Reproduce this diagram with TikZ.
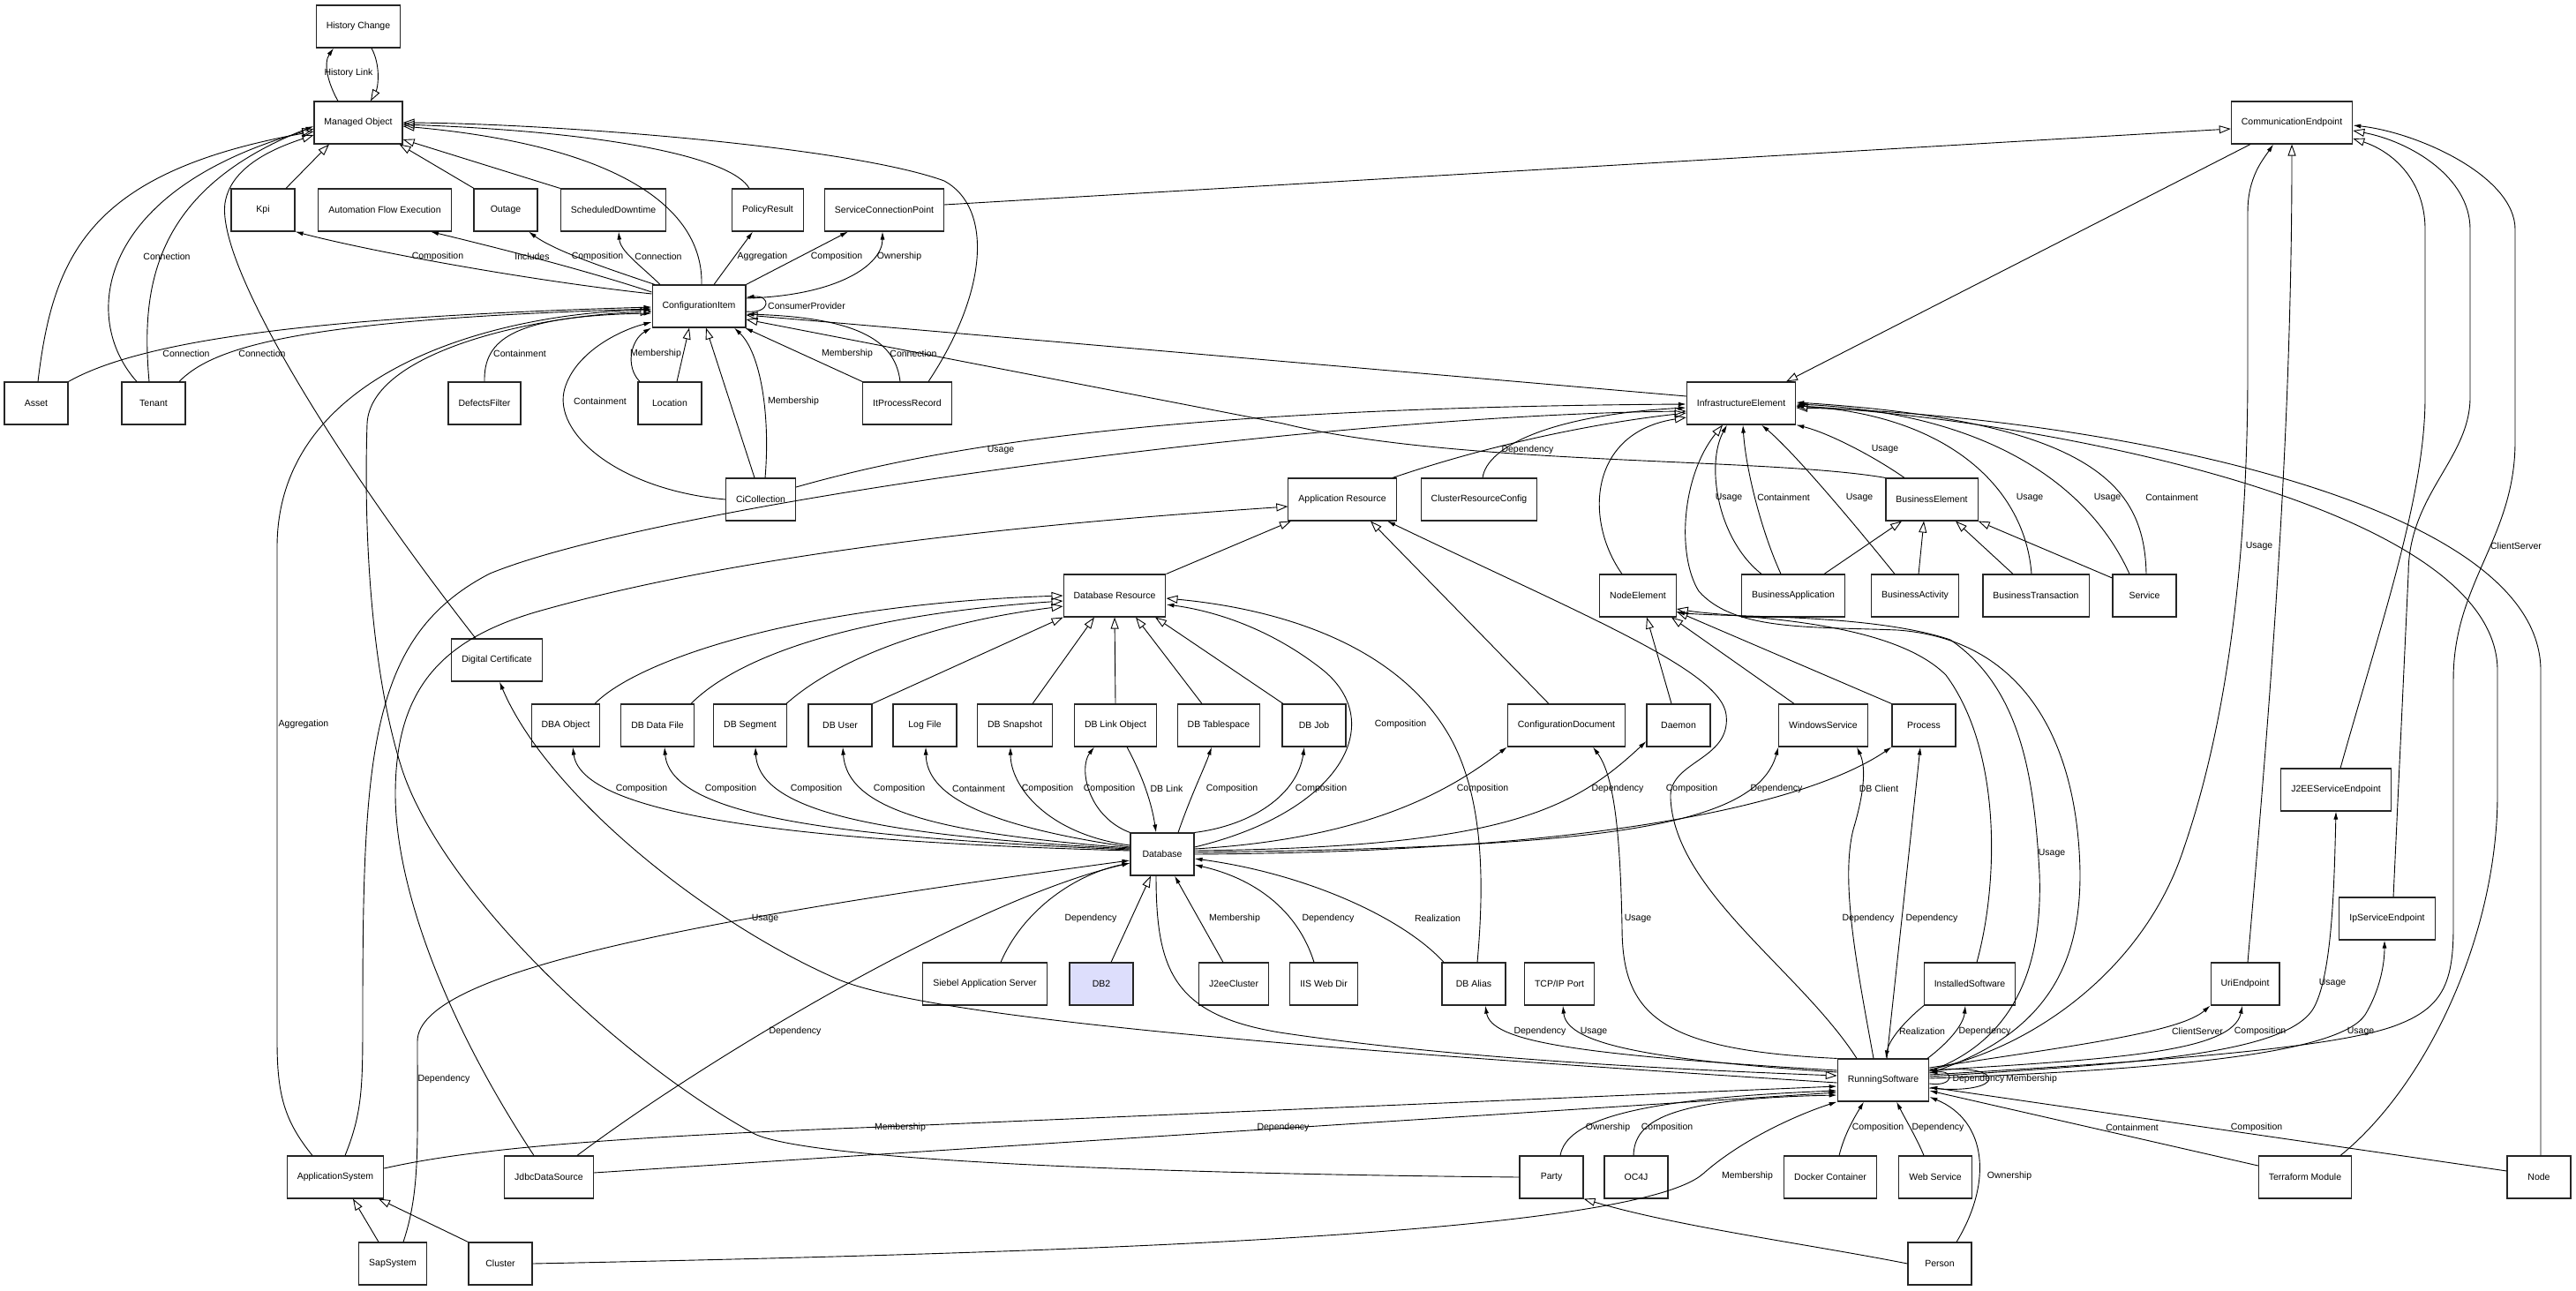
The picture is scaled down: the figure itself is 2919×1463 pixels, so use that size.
\documentclass[tikz,border=0pt]{standalone}
\usepackage{fontspec}
\setmainfont{Liberation Sans}
\usetikzlibrary{arrows.meta}
\usepackage{xcolor}
\definecolor{db2Blue}{RGB}{221,222,252}
\tikzset{
  umlbox/.style={
    draw=black!85,
    line width=1.1pt,
    minimum width=72pt,
    minimum height=48pt,
    inner xsep=11.5pt,
    font=\fontsize{10.5}{12}\selectfont
  }
}

\begin{document}
\begin{tikzpicture}[
    x=1pt, y=-1pt,
    inherit/.style={-{Triangle[open,length=13pt,width=9pt]}, line width=0.9pt},
    assoc/.style={-{Latex[length=9pt,width=5pt]}, line width=0.9pt},
    lbl/.style={inner sep=1pt, font=\fontsize{10.5}{12}\selectfont}
  ]
  \useasboundingbox (0,0) rectangle (2919,1463);

  \foreach \n/\x/\y/\t in {
    hc/406/30/History Change, mo/406/139/Managed Object,
    kpi/298/238/Kpi, afe/436/238/Automation Flow Execution, outage/573/238/Outage,
    sdt/695/238/ScheduledDowntime, polres/870/238/PolicyResult,
    scp/1002/238/ServiceConnectionPoint, cendp/2597/139/CommunicationEndpoint,
    ci/792/347/ConfigurationItem,
    asset/41/457/Asset, tenant/174/457/Tenant, defects/549/457/DefectsFilter,
    location/759/457/Location, itproc/1028/457/ItProcessRecord,
    infra/1973/457/InfrastructureElement,
    cicoll/862/566/CiCollection, appres/1521/566/Application Resource,
    clusterrc/1676/566/ClusterResourceConfig, buselem/2189/566/BusinessElement,
    dbres/1263/675/Database Resource, nodeel/1856/675/NodeElement,
    busapp/2032/675/BusinessApplication, busact/2170/675/BusinessActivity,
    bustx/2307/675/BusinessTransaction, service/2430/675/Service,
    digcert/563/748/Digital Certificate,
    dbaobj/641/822/DBA Object, dbfile/745/822/DB Data File, dbseg/850/822/DB Segment,
    dbuser/952/822/DB User, logfile/1048/822/Log File, dbsnap/1150/822/DB Snapshot,
    dblink/1264/822/DB Link Object, dbts/1381/822/DB Tablespace, dbjob/1489/822/DB Job,
    confdoc/1775/822/ConfigurationDocument, daemon/1902/822/Daemon,
    winsvc/2066/822/WindowsService, process/2180/822/Process,
    j2eese/2647/895/J2EEServiceEndpoint, database/1317/968/Database,
    ipse/2705/1041/IpServiceEndpoint,
    siebel/1116/1115/Siebel Application Server, j2eecl/1398/1115/J2eeCluster,
    iisweb/1500/1115/IIS Web Dir, dbalias/1670/1115/DB Alias,
    instsw/2232/1115/InstalledSoftware, uriendp/2544/1115/UriEndpoint,
    runsw/2134/1224/RunningSoftware,
    appsys/380/1334/ApplicationSystem, jdbc/622/1334/JdbcDataSource,
    party/1758/1334/Party, oc4j/1854/1334/OC4J, docker/2074/1334/Docker Container,
    websvc/2193/1334/Web Service, terraform/2612/1334/Terraform Module,
    nodehw/2877/1334/Node,
    sapsys/445/1432/SapSystem, cluster/567/1432/Cluster, person/2198/1432/Person}{
    \node[umlbox] (\n) at (\x,\y) {\t};
  }
  \node[umlbox, fill=db2Blue] (db2) at (1248,1115) {DB2};
  \node[umlbox] (tcpport) at (1767,1115) {TCP/IP Port};

  \foreach \x/\y/\t [count=\k] in {
    395/83/History Link, 189/291/Connection, 496/291/Composition, 603/291/Includes,
    677/291/Composition, 746/291/Connection, 864/291/Aggregation, 948/291/Composition,
    1019/291/Ownership, 914/347/ConsumerProvider,
    211/401/Connection, 297/401/Connection, 589/401/Containment, 743/401/Membership,
    960/401/Membership, 1035/401/Connection, 680/455/Containment, 899/455/Membership,
    1134/510/Usage, 1731/510/Dependency, 2136/509/Usage,
    1959/564/Usage, 2021/564/Containment, 2107/564/Usage, 2300/564/Usage,
    2388/564/Usage, 2461/564/Containment, 2560/619/Usage, 2851/619/ClientServer,
    344/821/Aggregation, 1587/821/Composition,
    727/894/Composition, 828/894/Composition, 925/894/Composition, 1019/894/Composition,
    1109/894/Containment, 1187/894/Composition, 1257/894/Composition, 1322/894/DB Link,
    1396/894/Composition, 1497/894/Composition, 1680/894/Composition, 1833/894/Dependency,
    1917/894/Composition, 2013/894/Dependency, 2129/894/DB Client,
    2325/967/Usage,
    867/1041/Usage, 1236/1041/Dependency, 1399/1041/Membership, 1505/1041/Dependency,
    1629/1041/Realization, 1856/1041/Usage, 2117/1041/Dependency, 2189/1041/Dependency,
    2643/1114/Usage,
    901/1169/Dependency, 1745/1169/Dependency, 1806/1169/Usage, 2178/1169/Realization,
    2249/1169/Dependency, 2490/1169/ClientServer, 2561/1169/Composition, 2675/1169/Usage,
    503/1223/Dependency, 2242/1223/Dependency, 2302/1223/Membership,
    1020/1278/Membership, 1454/1278/Dependency, 1822/1278/Ownership, 1889/1278/Composition,
    2128/1278/Composition, 2196/1278/Dependency, 2416/1278/Containment,
    2557/1278/Composition, 1980/1333/Membership, 2277/1333/Ownership}{
    \node[lbl] (lab\k) at (\x,\y) {\t};
  }

  % Managed Object
  \draw[assoc] ([xshift=-23pt]mo.north) .. controls (372,95) and (366,72) .. ([xshift=-28pt]hc.south);
  \draw[inherit] ([xshift=15pt]hc.south) .. controls (432,75) and (428,100) .. ([xshift=14pt]mo.north);
  \draw[inherit] ([xshift=26pt]kpi.north) -- ([xshift=-33pt]mo.south);
  \draw[inherit] ([xshift=-36pt]outage.north) -- ([xshift=-4pt]mo.south east);
  \draw[inherit] (sdt.north west) -- ([yshift=-19pt]mo.east);
  \draw[inherit] ([xshift=3pt]ci.north) .. controls (797,235) and (700,165) .. ([yshift=-4pt]mo.east);
  \draw[inherit] ([xshift=-21pt]polres.north) .. controls (830,180) and (700,150) .. ([yshift=-2pt]mo.east);
  \draw[inherit] ([xshift=24pt]itproc.north) .. controls (1120,330) and (1125,235) .. (1070,205) .. controls (960,165) and (620,140) .. (mo.east);
  \draw[inherit] ([xshift=2pt]asset.north) .. controls (60,290) and (100,195) .. ([yshift=-10pt]mo.west);
  \draw[inherit] ([xshift=-19pt]tenant.north) .. controls (90,360) and (110,215) .. ([yshift=-7pt]mo.west);
  \draw[assoc] ([xshift=-5pt]tenant.north) .. controls (160,330) and (170,215) .. ([yshift=-4pt]mo.west);
  \draw[inherit] ([xshift=-24pt]digcert.north) .. controls (380,520) and (245,300) .. (255,230) .. controls (262,185) and (320,165) .. ([yshift=-14pt]mo.west);

  % ConfigurationItem, upper row
  \draw[assoc] ([yshift=14pt]ci.west) .. controls (600,318) and (420,285) .. (kpi.south east);
  \draw[assoc] ([yshift=16pt]ci.west) .. controls (660,305) and (560,280) .. ([xshift=52pt]afe.south);
  \draw[assoc] ([xshift=-50pt]ci.north) .. controls (690,305) and (630,285) .. ([xshift=26pt]outage.south);
  \draw[assoc] ([xshift=-44pt]ci.north) .. controls (725,300) and (703,285) .. ([xshift=6pt]sdt.south);
  \draw[assoc] ([xshift=17pt]ci.north) -- ([xshift=-17pt]polres.south);
  \draw[assoc] (ci.north east) -- ([xshift=-41pt]scp.south);
  \draw[assoc] ([yshift=9pt]ci.east) .. controls (950,335) and (1000,300) .. ([xshift=-2pt]scp.south);
  \draw[assoc] ([yshift=-6pt]ci.east) .. controls (874,356) and (874,334) .. ([yshift=10pt]ci.east);
  \draw[inherit] ([yshift=6pt]scp.east) -- ([yshift=-7pt]cendp.west);

  % ConfigurationItem, from below
  \draw[assoc] (asset.north east) .. controls (170,380) and (400,358) .. ([yshift=-1pt]ci.west);
  \draw[assoc] ([xshift=29pt]tenant.north) .. controls (240,395) and (330,362) .. ([yshift=-3pt]ci.west);
  \draw[assoc] (defects.north) .. controls (548,385) and (580,358) .. ([yshift=-8pt]ci.west);
  \draw[assoc] ([xshift=-34pt]location.north) .. controls (708,415) and (715,385) .. ([xshift=-54pt]ci.south);
  \draw[inherit] ([xshift=8pt]location.north) -- ([xshift=-11pt]ci.south);
  \draw[assoc] (itproc.north west) -- ([xshift=52pt]ci.south);
  \draw[assoc] ([xshift=-8pt]itproc.north) .. controls (1015,390) and (980,360) .. ([yshift=-9pt]ci.east);
  \draw[assoc] (cicoll.west) .. controls (700,555) and (625,490) .. (640,440) .. controls (652,400) and (700,375) .. ([yshift=-18pt]ci.west);
  \draw[inherit] ([xshift=-7pt]cicoll.north) -- ([xshift=8pt]ci.south);
  \draw[assoc] ([xshift=5pt]cicoll.north) .. controls (873,470) and (862,400) .. ([xshift=40pt]ci.south);
  \draw[assoc] ([yshift=14pt]cicoll.east) .. controls (1050,510) and (1300,462) .. ([yshift=-1pt]infra.west);
  \draw[inherit] ([yshift=8pt]infra.west) -- ([yshift=-10pt]ci.east);
  \draw[inherit] (buselem.north west) .. controls (2000,518) and (1650,528) .. (1454,480) -- ([yshift=-15pt]ci.east);
  \draw[assoc] ([xshift=-26pt]appsys.north) .. controls (322,1270) and (314,1240) .. (314,1180) -- (314,620) .. controls (314,420) and (560,355) .. ([yshift=-4pt]ci.west);
  \draw[inherit] (party.west) .. controls (1300,1330) and (920,1315) .. (855,1285) .. controls (700,1200) and (500,1010) .. (455,870) .. controls (420,760) and (412,600) .. (416,480) .. controls (420,400) and (600,358) .. ([yshift=-6pt]ci.west);

  % ApplicationSystem, JdbcDataSource, SapSystem, Cluster
  \draw[inherit] ([xshift=11pt]appsys.north) .. controls (411,1260) and (411,1230) .. (411,1150) .. controls (411,850) and (420,720) .. (555,650) .. controls (750,570) and (1500,470) .. ([yshift=-9pt]infra.west);
  \draw[inherit] ([xshift=-17pt]jdbc.north) .. controls (500,1150) and (448,1000) .. (448,900) .. controls (448,780) and (500,722) .. (620,690) .. controls (900,612) and (1300,585) .. ([yshift=-8pt]appres.west);
  \draw[assoc] ([xshift=32pt]jdbc.north) .. controls (800,1200) and (1100,1020) .. ([yshift=-10pt]database.west);
  \draw[assoc] ([xshift=12pt]sapsys.north) .. controls (476,1350) and (473,1300) .. (473,1180) .. controls (473,1100) and (800,1040) .. ([yshift=-7pt]database.west);
  \draw[inherit] ([xshift=-16pt]sapsys.north) -- ([xshift=20pt]appsys.south);
  \draw[inherit] (cluster.north west) -- ([xshift=49pt]appsys.south);
  \draw[assoc] ([yshift=10pt]appsys.east) .. controls (520,1305) and (650,1290) .. (1000,1277) -- ([yshift=-7pt]runsw.west);
  \draw[assoc] ([yshift=5pt]jdbc.east) -- ([yshift=-14pt]runsw.west);
  \draw[assoc] (cluster.east) .. controls (1200,1420) and (1850,1400) .. (1930,1330) .. controls (1975,1290) and (2040,1262) .. (runsw.south west);

  % RunningSoftware, left side
  \draw[assoc] ([yshift=-3pt]runsw.west) .. controls (1500,1190) and (1060,1155) .. (950,1110) .. controls (800,1045) and (620,900) .. ([xshift=3pt]digcert.south);
  \draw[inherit] ([xshift=-7pt]database.south) .. controls (1310,1100) and (1330,1150) .. (1450,1170) .. controls (1650,1200) and (1900,1212) .. ([yshift=5pt]runsw.west);
  \draw[assoc] (runsw.north west) .. controls (1880,1190) and (1838,1150) .. (1838,1050) .. controls (1836,950) and (1830,880) .. ([xshift=30pt]confdoc.south);
  \draw[assoc] ([yshift=11pt]runsw.west) .. controls (1780,1195) and (1690,1180) .. ([xshift=13pt]dbalias.south);
  \draw[assoc] ([yshift=9pt]runsw.west) .. controls (1850,1200) and (1775,1180) .. ([xshift=4pt]tcpport.south);
  \draw[assoc] ([xshift=10pt]party.north) .. controls (1775,1270) and (1850,1245) .. ([yshift=-12pt]runsw.west);
  \draw[assoc] ([xshift=-3pt]oc4j.north) .. controls (1852,1270) and (1890,1245) .. ([yshift=-17pt]runsw.west);
  \draw[inherit] (person.west) .. controls (2050,1410) and (1900,1390) .. (party.south east);

  % RunningSoftware, bottom and right side
  \draw[assoc] ([xshift=19pt]person.north) .. controls (2258,1340) and (2252,1270) .. ([yshift=-19pt]runsw.east);
  \draw[assoc] ([xshift=10pt]docker.north) .. controls (2090,1285) and (2102,1265) .. ([xshift=-22pt]runsw.south);
  \draw[assoc] ([xshift=-13pt]websvc.north) .. controls (2172,1290) and (2160,1270) .. ([xshift=15pt]runsw.south);
  \draw[assoc] ([yshift=13pt]terraform.west) -- ([yshift=-12pt]runsw.east);
  \draw[assoc] ([yshift=7pt]nodehw.west) -- ([yshift=-8pt]runsw.east);
  \draw[inherit] ([xshift=40pt]terraform.north) .. controls (2750,1230) and (2830,1060) .. (2830,900) -- (2830,760) .. controls (2830,570) and (2300,475) .. ([yshift=-3pt]infra.east);
  \draw[inherit] ([xshift=2pt]nodehw.north) -- (2879,760) .. controls (2879,560) and (2350,470) .. ([yshift=-5pt]infra.east);
  \draw[assoc] ([yshift=-4pt]runsw.east) .. controls (2215,1232) and (2215,1212) .. ([yshift=8pt]runsw.east);
  \draw[assoc] ([yshift=-9pt]runsw.east) .. controls (2275,1242) and (2275,1204) .. ([yshift=10pt]runsw.east);

  % RunningSoftware, upwards
  \draw[assoc] ([xshift=-30pt]runsw.north) .. controls (2040,1100) and (1898,1010) .. (1893,905) .. controls (1890,862) and (1962,862) .. (1956,810) .. controls (1950,760) and (1800,700) .. ([xshift=51pt]appres.south);
  \draw[assoc] ([xshift=-11pt]runsw.north) .. controls (2105,1100) and (2085,1000) .. (2100,940) .. controls (2112,900) and (2115,870) .. ([xshift=38pt]winsvc.south);
  \draw[assoc] ([xshift=4pt]runsw.north) -- ([xshift=-4pt]process.south);
  \draw[assoc] ([xshift=-52pt]instsw.south) .. controls (2155,1160) and (2140,1180) .. ([xshift=3pt]runsw.north);
  \draw[assoc] ([xshift=50pt]runsw.north) .. controls (2210,1180) and (2225,1160) .. ([xshift=-5pt]instsw.south);
  \draw[inherit] ([xshift=8pt]instsw.north) .. controls (2265,1000) and (2268,850) .. (2205,765) .. controls (2140,700) and (1960,700) .. ([yshift=-15pt]nodeel.east);
  \draw[assoc] ([yshift=10pt]runsw.east) .. controls (2280,1180) and (2315,1100) .. (2311,990) .. controls (2305,880) and (2290,780) .. (2210,725) .. controls (2120,695) and (1960,700) .. ([yshift=-19pt]nodeel.east);
  \draw[inherit] ([yshift=8pt]runsw.east) .. controls (2330,1170) and (2357,1080) .. (2357,990) .. controls (2355,850) and (2300,725) .. (2150,714) .. controls (2050,710) and (1965,715) .. (1925,670) .. controls (1900,630) and (1905,540) .. ([xshift=-21pt]infra.south);

  % CommunicationEndpoint
  \draw[inherit] ([xshift=-47pt]cendp.south) -- ([xshift=51pt]infra.north);
  \draw[assoc] ([yshift=12pt]runsw.east) .. controls (2300,1190) and (2430,1100) .. (2475,960) .. controls (2530,800) and (2547,600) .. (2547,420) -- (2547,240) .. controls (2547,200) and (2565,180) .. ([xshift=-21pt]cendp.south);
  \draw[inherit] ([xshift=3pt]uriendp.north) .. controls (2572,800) and (2597,500) .. (cendp.south);
  \draw[inherit] ([xshift=5pt]j2eese.north) .. controls (2700,700) and (2748,560) .. (2748,450) -- (2748,260) .. controls (2748,205) and (2712,172) .. ([yshift=-18pt]cendp.east);
  \draw[inherit] ([xshift=7pt]ipse.north) -- (2729,650) .. controls (2729,560) and (2799,520) .. (2799,450) -- (2799,260) .. controls (2799,200) and (2730,160) .. ([yshift=-9pt]cendp.east);
  \draw[assoc] ([yshift=6pt]runsw.east) .. controls (2400,1205) and (2650,1190) .. (2720,1160) .. controls (2770,1140) and (2780,1110) .. (2780,1050) -- (2780,770) .. controls (2780,660) and (2850,610) .. (2850,500) -- (2850,260) .. controls (2850,200) and (2740,150) .. ([yshift=-3pt]cendp.east);
  \draw[assoc] ([yshift=4pt]runsw.east) .. controls (2420,1205) and (2585,1195) .. (2620,1145) .. controls (2643,1110) and (2645,1000) .. (j2eese.south);
  \draw[assoc] ([yshift=2pt]runsw.east) .. controls (2450,1212) and (2650,1195) .. (2680,1150) .. controls (2698,1120) and (2702,1090) .. ([xshift=-3pt]ipse.south);
  \draw[assoc] ([yshift=14pt]runsw.east) .. controls (2350,1185) and (2470,1170) .. (uriendp.south west);
  \draw[assoc] ([yshift=11pt]runsw.east) .. controls (2400,1200) and (2530,1192) .. ([xshift=-3pt]uriendp.south);

  % Database Resource
  \draw[inherit] ([xshift=33pt]dbaobj.north) .. controls (720,750) and (900,685) .. (dbres.west);
  \draw[inherit] ([xshift=38pt]dbfile.north) .. controls (830,750) and (950,698) .. ([yshift=-6pt]dbres.west);
  \draw[inherit] ([xshift=41pt]dbseg.north) .. controls (950,745) and (1060,705) .. ([yshift=-12pt]dbres.west);
  \draw[inherit] (dbuser.north east) -- (dbres.south west);
  \draw[inherit] ([xshift=20pt]dbsnap.north) -- ([xshift=-23pt]dbres.south);
  \draw[inherit] (dblink.north) -- (dbres.south);
  \draw[inherit] ([xshift=-19pt]dbts.north) -- ([xshift=24pt]dbres.south);
  \draw[inherit] ([xshift=-35pt]dbjob.north) -- ([xshift=46pt]dbres.south);
  \draw[assoc] ([yshift=8pt]database.east) .. controls (1520,920) and (1572,820) .. (1500,760) .. controls (1440,712) and (1375,692) .. ([yshift=-10pt]dbres.east);
  \draw[inherit] ([xshift=4pt]dbalias.north) .. controls (1682,1000) and (1682,900) .. (1640,830) .. controls (1580,730) and (1450,690) .. ([yshift=-3pt]dbres.east);

  % Database, lower row
  \draw[assoc] ([xshift=-34pt]dbalias.north) .. controls (1590,1040) and (1480,990) .. ([yshift=-5pt]database.east);
  \draw[assoc] ([xshift=18pt]siebel.north) .. controls (1160,1030) and (1220,990) .. ([yshift=-10pt]database.west);
  \draw[inherit] ([xshift=11pt]db2.north) -- ([xshift=-13pt]database.south);
  \draw[assoc] ([xshift=-12pt]j2eecl.north) -- ([xshift=14pt]database.south);
  \draw[assoc] ([xshift=-11pt]iisweb.north) .. controls (1470,1030) and (1420,995) .. ([yshift=-12pt]database.east);

  % Database, upper row
  \draw[assoc] ([yshift=4pt]database.west) .. controls (950,955) and (660,930) .. ([xshift=8pt]dbaobj.south);
  \draw[assoc] ([yshift=5pt]database.west) .. controls (980,950) and (760,930) .. ([xshift=8pt]dbfile.south);
  \draw[assoc] ([yshift=6pt]database.west) .. controls (1020,948) and (860,925) .. ([xshift=6pt]dbseg.south);
  \draw[assoc] ([yshift=7pt]database.west) .. controls (1070,945) and (960,920) .. ([xshift=3pt]dbuser.south);
  \draw[assoc] ([yshift=8pt]database.west) .. controls (1110,935) and (1050,900) .. ([xshift=1pt]logfile.south);
  \draw[assoc] ([yshift=10pt]database.west) .. controls (1185,945) and (1145,890) .. ([xshift=-5pt]dbsnap.south);
  \draw[assoc] (database.north west) .. controls (1232,925) and (1222,870) .. ([xshift=-24pt]dblink.south);
  \draw[assoc] ([xshift=13pt]dblink.south) .. controls (1295,880) and (1305,910) .. ([xshift=-7pt]database.north);
  \draw[assoc] ([xshift=18pt]database.north) .. controls (1350,900) and (1365,870) .. ([xshift=-8pt]dbts.south);
  \draw[assoc] (database.north east) .. controls (1420,935) and (1470,900) .. ([xshift=-11pt]dbjob.south);
  \draw[assoc] ([yshift=6pt]database.east) .. controls (1560,950) and (1650,890) .. (confdoc.south west);
  \draw[assoc] ([yshift=4pt]database.east) .. controls (1700,960) and (1780,920) .. ([yshift=-18pt]daemon.west);
  \draw[assoc] ([yshift=2pt]database.east) .. controls (1800,960) and (1990,940) .. (winsvc.south west);
  \draw[assoc] (database.east) .. controls (1900,965) and (2080,890) .. (process.south west);

  % Application Resource, NodeElement
  \draw[inherit] (dbres.north east) -- ([xshift=-58pt]appres.south);
  \draw[inherit] ([xshift=-20pt]confdoc.north) -- ([xshift=32pt]appres.south);
  \draw[inherit] ([xshift=57pt]appres.north) .. controls (1700,500) and (1820,478) .. ([yshift=-11pt]infra.west);
  \draw[assoc] ([xshift=4pt]clusterrc.north) .. controls (1685,505) and (1760,470) .. ([yshift=-5pt]infra.west);
  \draw[inherit] ([xshift=-18pt]nodeel.north) .. controls (1795,590) and (1800,490) .. ([yshift=-16pt]infra.west);
  \draw[inherit] ([xshift=-8pt]daemon.north) -- ([xshift=10pt]nodeel.south);
  \draw[inherit] ([xshift=-33pt]winsvc.north) -- ([xshift=38pt]nodeel.south);
  \draw[inherit] (process.north west) -- ([yshift=-18pt]nodeel.east);

  % BusinessElement
  \draw[inherit] ([xshift=35pt]busapp.north) -- ([xshift=-34pt]buselem.south);
  \draw[inherit] ([xshift=4pt]busact.north) -- ([xshift=-9pt]buselem.south);
  \draw[inherit] ([xshift=-26pt]bustx.north) -- ([xshift=27pt]buselem.south);
  \draw[inherit] ([yshift=20pt]service.west) -- (buselem.south east);
  \draw[assoc] ([xshift=-31pt]buselem.north) .. controls (2120,515) and (2070,490) .. (infra.south east);
  \draw[assoc] ([xshift=-36pt]busapp.north) .. controls (1945,610) and (1933,525) .. ([xshift=-16pt]infra.south);
  \draw[assoc] ([xshift=-14pt]busapp.north) .. controls (1995,600) and (1978,530) .. ([xshift=2pt]infra.south);
  \draw[assoc] ([xshift=-23pt]busact.north) .. controls (2090,580) and (2030,510) .. ([xshift=23pt]infra.south);
  \draw[assoc] ([xshift=-5pt]bustx.north) .. controls (2295,555) and (2210,470) .. ([yshift=-3pt]infra.east);
  \draw[assoc] ([xshift=-17pt]service.north) .. controls (2370,555) and (2260,468) .. ([yshift=-1pt]infra.east);
  \draw[assoc] ([xshift=2pt]service.north) .. controls (2430,555) and (2380,478) .. ([yshift=1pt]infra.east);
\end{tikzpicture}
\end{document}
